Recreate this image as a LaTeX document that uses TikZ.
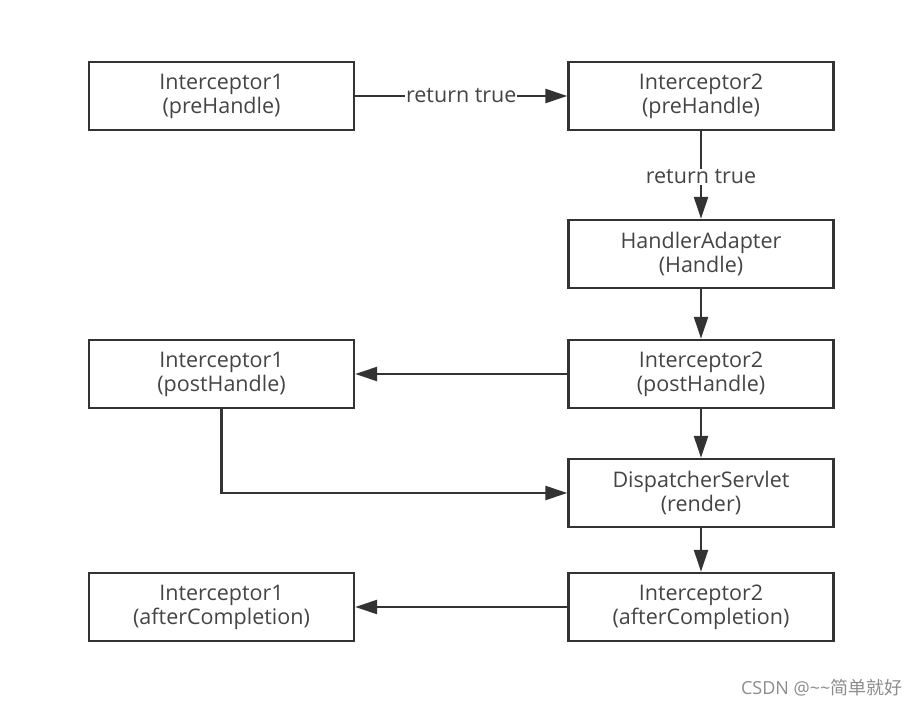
\documentclass[tikz,border=0pt]{standalone}
\usepackage{fontspec}
\setmainfont{Open Sans}
\newfontfamily\cjk{Noto Sans CJK SC}
\usetikzlibrary{arrows.meta}
\definecolor{ln}{HTML}{333333}
\definecolor{tx}{HTML}{444444}
\tikzset{
  box/.style={draw=ln, line width=2.4pt, minimum width=265pt, minimum height=68pt, inner sep=0pt, align=center, text=tx, font=\fontsize{21.5}{24}\selectfont},
  conn/.style={draw=ln, line width=2.4pt, -{Triangle[length=22pt,width=14pt]}},
  lbl/.style={fill=white, text=tx, inner sep=1pt, font=\fontsize{21.5}{24}\selectfont}
}
\begin{document}
\begin{tikzpicture}[x=1pt,y=-1pt]
\useasboundingbox (0,0) rectangle (922,706);
\node[box] (l1) at (221.5,96) {Interceptor1\\(preHandle)};
\node[box] (r1) at (701,96) {Interceptor2\\(preHandle)};
\node[box] (r2) at (701,254) {HandlerAdapter\\(Handle)};
\node[box] (l3) at (221.5,374) {Interceptor1\\(postHandle)};
\node[box] (r3) at (701,374) {Interceptor2\\(postHandle)};
\node[box] (r4) at (701,493) {DispatcherServlet\\(render)};
\node[box] (l5) at (221.5,607) {Interceptor1\\(afterCompletion)};
\node[box] (r5) at (701,607) {Interceptor2\\(afterCompletion)};
\coordinate (bend) at (l3.south |- r4.west);
\draw[conn] (l1) -- node[lbl] (t1) {return true} (r1);
\draw[conn] (r1) -- node[lbl, yshift=-2pt] (t2) {return true} (r2);
\draw[conn] (r2) -- (r3);
\draw[conn] (r3) -- (l3);
\draw[conn] (r3) -- (r4);
\draw[conn] (l3.south) -- (bend) -- (r4.west);
\draw[conn] (r4) -- (r5);
\draw[conn] (r5) -- (l5);
\node[anchor=east, text=black!45, font=\fontsize{18}{20}\selectfont] (wm) at (906,688) {CSDN @\textasciitilde\textasciitilde{\cjk 简单就好}};
\end{tikzpicture}
\end{document}
